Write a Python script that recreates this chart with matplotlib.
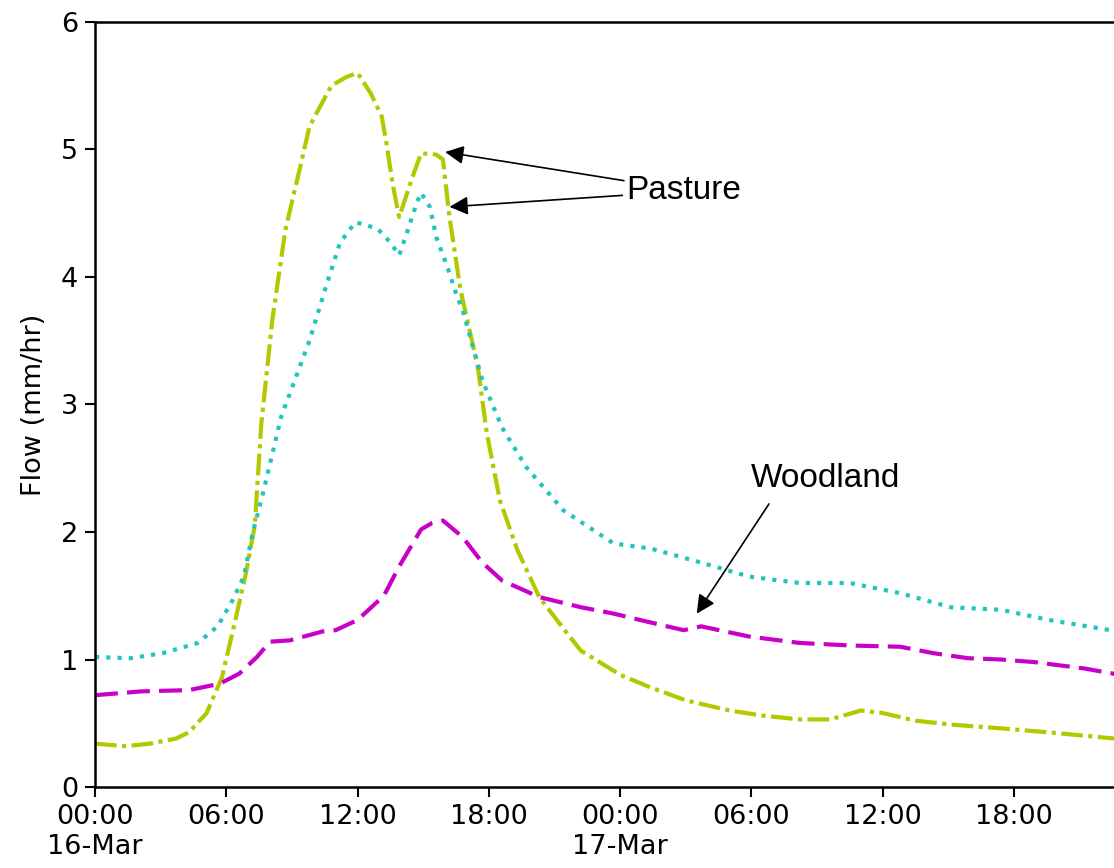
import matplotlib
matplotlib.use('Agg')
import matplotlib.pyplot as plt
import matplotlib.dates as mdates
from matplotlib.ticker import FuncFormatter
import pandas as pd

START = pd.Timestamp('2017-03-16 00:00')

# ── Données (heures depuis 16-Mar 00:00, débit mm/h) ──
pasture1_h = [0, 1.4, 2.5, 3.7, 4.3, 5.1, 5.8, 6.4, 6.9, 7.3, 7.6, 8.1, 8.7, 9.4, 9.8,
              10.8, 11.5, 12.0, 12.6, 13.1, 13.3, 13.6, 13.9, 14.5, 14.9, 15.6,
              15.9, 16.2, 16.7, 17.5, 17.9, 18.5, 19.3, 20.3, 21.6, 22.2, 24.0,
              25.4, 27.0, 29.0, 30.5, 32.2, 33.6, 35.0, 36.0, 37.5, 39.1, 41.4,
              43.5, 46.6, 47.5]
pasture1_q = [0.34, 0.32, 0.34, 0.38, 0.43, 0.58, 0.86, 1.30, 1.68, 2.05, 2.85, 3.66,
              4.37, 4.88, 5.18, 5.50, 5.57, 5.60, 5.44, 5.26, 5.07, 4.73, 4.47, 4.78,
              4.97, 4.96, 4.92, 4.47, 3.90, 3.29, 2.78, 2.25, 1.86, 1.49, 1.20, 1.07,
              0.88, 0.78, 0.68, 0.60, 0.56, 0.53, 0.53, 0.60, 0.58, 0.52, 0.49, 0.46,
              0.43, 0.38, 0.37]

pasture2_h = [0, 1.6, 3.1, 4.7, 5.6, 6.3, 6.8, 7.2, 7.6, 8.5, 9.8, 10.6, 11.2, 11.9,
              12.9, 13.5, 13.9, 14.3, 14.7, 14.9, 15.3, 15.6, 16.1, 16.5, 16.8, 17.7,
              18.6, 19.7, 21.4, 23.7, 25.4, 27.7, 29.9, 32.2, 34.5, 36.8, 39.1, 41.4,
              43.6, 46.4, 47.5]
pasture2_q = [1.02, 1.01, 1.05, 1.13, 1.26, 1.47, 1.65, 1.99, 2.25, 2.90, 3.50, 3.95,
              4.27, 4.43, 4.38, 4.27, 4.17, 4.37, 4.58, 4.66, 4.55, 4.31, 4.08, 3.87,
              3.74, 3.19, 2.82, 2.51, 2.17, 1.91, 1.87, 1.76, 1.65, 1.60, 1.60, 1.52,
              1.41, 1.39, 1.31, 1.23, 1.20]

woodland_h = [0, 2.1, 4.3, 5.7, 6.6, 7.4, 8.0, 8.9, 10.4, 11.0, 12.0, 13.2, 13.9,
              14.9, 15.4, 15.9, 16.8, 17.7, 18.6, 20.3, 22.2, 23.7, 25.4, 26.9, 27.7,
              29.9, 32.2, 34.5, 36.8, 38.3, 39.9, 41.4, 42.9, 45.2, 46.5, 47.5]
woodland_q = [0.72, 0.75, 0.76, 0.81, 0.89, 1.02, 1.14, 1.15, 1.22, 1.23, 1.31, 1.50,
              1.73, 2.02, 2.07, 2.09, 1.96, 1.76, 1.62, 1.49, 1.41, 1.36, 1.29, 1.23,
              1.26, 1.18, 1.13, 1.11, 1.10, 1.05, 1.01, 1.00, 0.98, 0.93, 0.89, 0.86]

colors = {'pasture1': '#b4c800', 'pasture2': '#20c6bc', 'woodland': '#c800c8'}


def to_time(hours):
    return START + pd.to_timedelta(hours, unit='h')


fig = plt.figure(figsize=(11.14, 8.68), dpi=100)
# l'axe dépasse le bord droit de l'image (comme sur la figure d'origine)
ax = fig.add_axes([0.0853, 0.0933, 0.933, 0.8814])

ax.plot(to_time(pasture1_h), pasture1_q, color=colors['pasture1'], lw=3,
        dashes=(5.2, 1.3, 1.0, 1.3))
ax.plot(to_time(pasture2_h), pasture2_q, color=colors['pasture2'], lw=3,
        dashes=(1.0, 1.7))
ax.plot(to_time(woodland_h), woodland_q, color=colors['woodland'], lw=3,
        dashes=(5.5, 2.2))

ax.set_xlim(START, START + pd.Timedelta(hours=47.5))
ax.set_ylim(0, 6)
ax.set_yticks(range(7))

ax.xaxis.set_major_locator(mdates.HourLocator(byhour=[0, 6, 12, 18]))


def fmt_time(x, pos):
    d = mdates.num2date(x)
    if d.hour == 0:
        return d.strftime('%H:%M\n%d-%b')
    return d.strftime('%H:%M')


ax.xaxis.set_major_formatter(FuncFormatter(fmt_time))
ax.tick_params(labelsize=19.5, length=7, width=1.5, pad=5)
for s in ax.spines.values():
    s.set_linewidth(1.8)
ax.set_ylabel('Flow (mm/hr)', fontsize=19.5, labelpad=10)

# ── Annotations ─────────────────────────────────────────────────────────
arrow = dict(arrowstyle='-|>', color='black', lw=1.2, mutation_scale=28,
             shrinkA=0, shrinkB=0)
ann_font = dict(family='Liberation Sans', fontsize=24)
ax.annotate('Pasture', xy=(to_time(16.0), 4.98), xytext=(to_time(24.3), 4.68),
            va='center', ha='left', arrowprops=arrow, **ann_font)
ax.annotate('', xy=(to_time(16.2), 4.55), xytext=(to_time(24.1), 4.64),
            arrowprops=arrow)
ax.text(to_time(33.4), 2.42, 'Woodland', va='center', ha='center', **ann_font)
ax.annotate('', xy=(to_time(27.5), 1.36), xytext=(to_time(30.8), 2.22),
            arrowprops=arrow)

fig.savefig('out.png', dpi=100)
